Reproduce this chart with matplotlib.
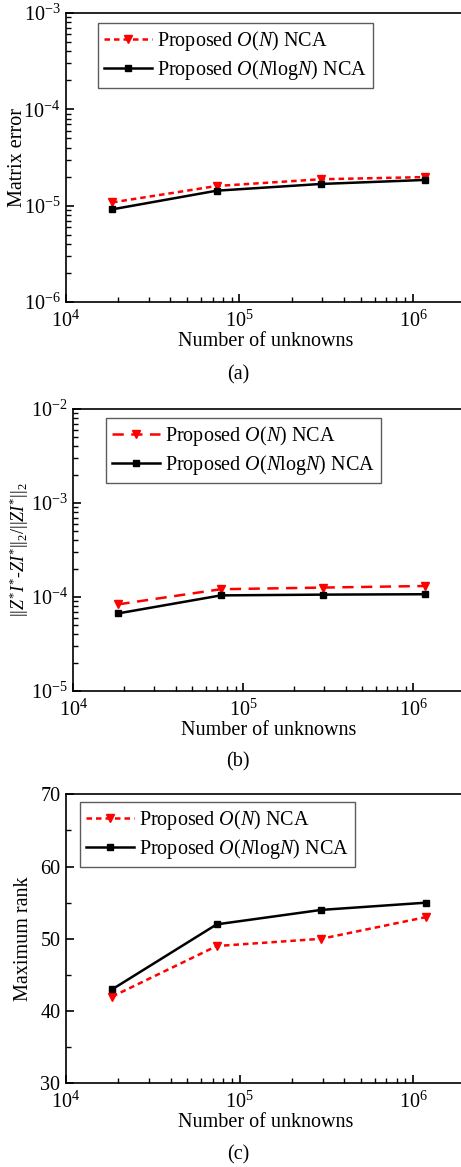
import numpy as np
import matplotlib
matplotlib.use("Agg")
import matplotlib.pyplot as plt
from matplotlib.ticker import LogLocator, NullFormatter, MultipleLocator

plt.rcParams['font.family'] = ['Liberation Serif']
plt.rcParams['mathtext.fontset'] = 'custom'
plt.rcParams['mathtext.rm'] = 'Liberation Serif'
plt.rcParams['mathtext.it'] = 'Liberation Serif:italic'
plt.rcParams['mathtext.bf'] = 'Liberation Serif:bold'
plt.rcParams['axes.unicode_minus'] = False

# Data
unknowns = [18432, 73728, 294912, 1179648]
err_on = [1.08e-5, 1.60e-5, 1.88e-5, 1.98e-5]
err_onlogn = [9.15e-6, 1.43e-5, 1.68e-5, 1.85e-5]
res_on = [8.36e-5, 1.21e-4, 1.26e-4, 1.31e-4]
res_onlogn = [6.7e-5, 1.04e-4, 1.06e-4, 1.07e-4]
rank_on = [42, 49, 50, 53]
rank_onlogn = [43, 52, 54, 55]

label_on = r'Proposed $\mathit{O}$($\mathit{N}$) NCA'
label_onlogn = r'Proposed $\mathit{O}$($\mathit{N}$log$\mathit{N}$) NCA'

W, H = 461, 1167
fig = plt.figure(figsize=(W / 100, H / 100), dpi=100)

FS = 14.5

def make_axes(left, top, bottom, decade):
    width = 2.301 * decade
    return fig.add_axes([left / W, (H - bottom) / H, width / W, (bottom - top) / H])

def style(ax, logy):
    ax.set_xscale('log')
    ax.set_xlim(1e4, 2e6)
    ax.spines['right'].set_visible(False)
    for s in ['left', 'bottom', 'top']:
        ax.spines[s].set_linewidth(1.2)
    ax.xaxis.set_major_locator(LogLocator(base=10, numticks=10))
    ax.xaxis.set_minor_locator(LogLocator(base=10, subs=np.arange(2, 10), numticks=20))
    ax.xaxis.set_minor_formatter(NullFormatter())
    if logy:
        ax.set_yscale('log')
        ax.yaxis.set_minor_locator(LogLocator(base=10, subs=np.arange(2, 10), numticks=20))
        ax.yaxis.set_minor_formatter(NullFormatter())
    ax.tick_params(which='major', direction='in', length=6, width=1.2, labelsize=FS,
                   top=False, right=False, pad=4)
    ax.tick_params(which='minor', direction='in', length=3.5, width=1.0,
                   top=False, right=False)
    ax.tick_params(axis='x', which='major', pad=6)

def add_legend(ax, anchor):
    leg = ax.legend(loc='upper left', bbox_to_anchor=anchor, borderaxespad=0,
                    fontsize=FS, fancybox=False, handlelength=2.4, handletextpad=0.25,
                    borderpad=0.3, labelspacing=0.25, edgecolor='#333333')
    leg.get_frame().set_linewidth(1.0)

def plot_panel(ax, y1, y2, dashes):
    ax.plot(unknowns, y1, color='red', lw=1.8, linestyle=(0, dashes), marker='v',
            markersize=6, label=label_on)
    ax.plot(unknowns, y2, color='black', lw=1.8, linestyle='-', marker='s',
            markersize=5, label=label_onlogn)

# (a)
ax1 = make_axes(66, 13, 302, 173.5)
plot_panel(ax1, err_on, err_onlogn, (2.2, 1.6))
style(ax1, True)
ax1.set_ylim(1e-6, 1e-3)
ax1.set_ylabel('Matrix error', fontsize=FS)
ax1.yaxis.set_label_coords(-0.098, 0.5)
ax1.set_xlabel('Number of unknowns', fontsize=FS, labelpad=0)
add_legend(ax1, (0.08, 0.965))
fig.text(238 / W, 1 - 375 / H, '(a)', fontsize=FS, ha='center', va='center')

# (b)
ax2 = make_axes(73.3, 409, 691, 170)
plot_panel(ax2, res_on, res_onlogn, (4.5, 3.0))
style(ax2, True)
ax2.set_ylim(1e-5, 1e-2)
ax2.set_ylabel(r'$||Z^{*}I^{*}$-$ZI^{*}||_2/||ZI^{*}||_2$', fontsize=13)
ax2.yaxis.set_label_coords(-0.108, 0.5)
ax2.set_xlabel('Number of unknowns', fontsize=FS, labelpad=0)
add_legend(ax2, (0.083, 0.967))
fig.text(238 / W, 1 - 761.7 / H, '(b)', fontsize=FS, ha='center', va='center')

# (c)
ax3 = make_axes(66, 794.3, 1083.3, 173.7)
plot_panel(ax3, rank_on, rank_onlogn, (2.2, 1.6))
style(ax3, False)
ax3.set_ylim(30, 70)
ax3.yaxis.set_major_locator(MultipleLocator(10))
ax3.yaxis.set_minor_locator(MultipleLocator(5))
ax3.set_ylabel('Maximum rank', fontsize=FS)
ax3.yaxis.set_label_coords(-0.082, 0.5)
ax3.set_xlabel('Number of unknowns', fontsize=FS, labelpad=0)
add_legend(ax3, (0.035, 0.974))
fig.text(238 / W, 1 - 1155 / H, '(c)', fontsize=FS, ha='center', va='center')

fig.savefig('out.png', dpi=100)
